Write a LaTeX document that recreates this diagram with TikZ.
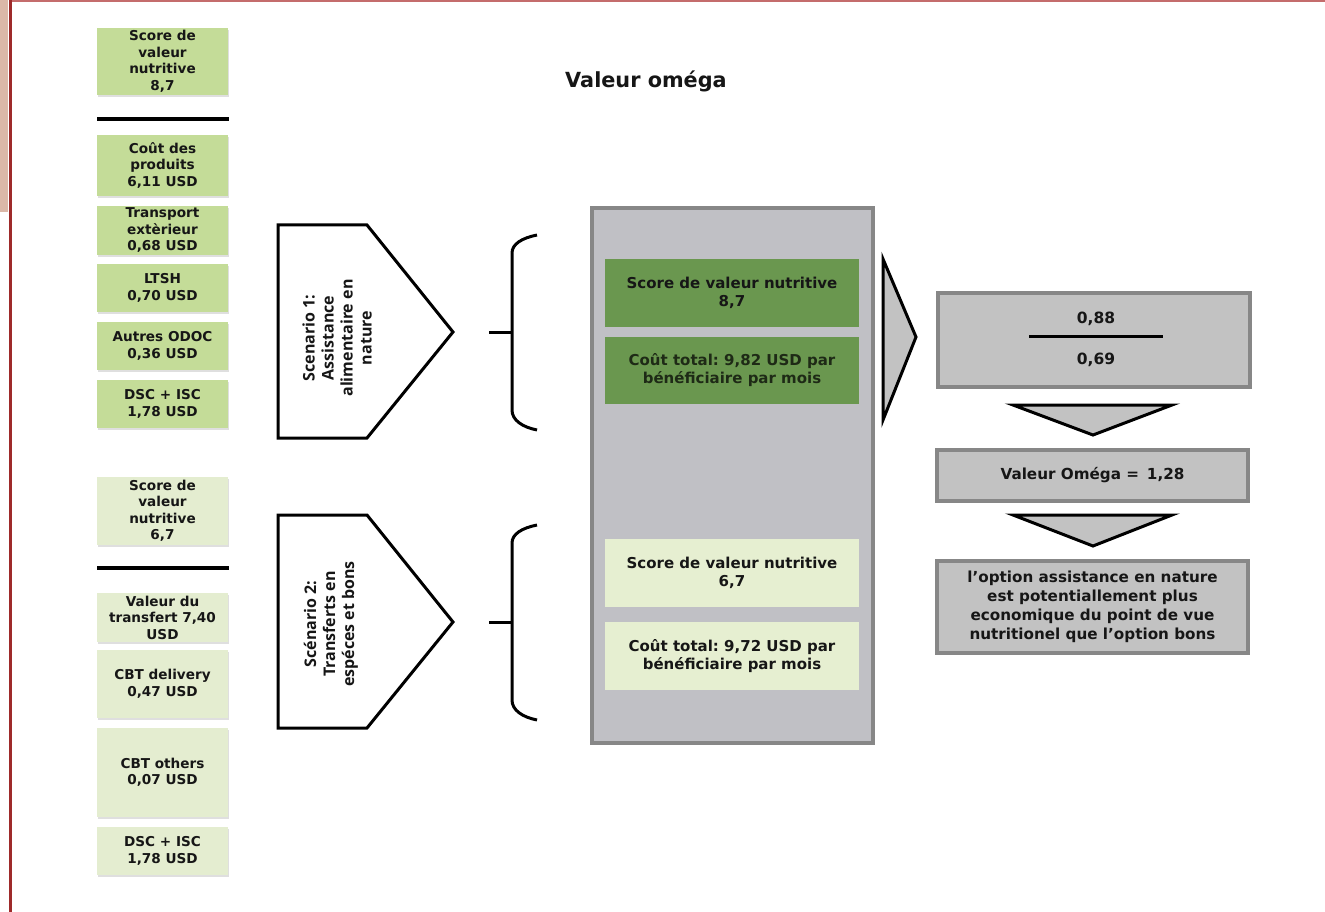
\documentclass[tikz,border=0pt]{standalone}
\usepackage{fontspec}
\setmainfont{DejaVu Sans}
\newfontfamily\osans{Open Sans}
\usetikzlibrary{shadows}
\frenchspacing

\definecolor{leafA}{HTML}{C4DC98}
\definecolor{leafB}{HTML}{E4EDD0}
\definecolor{darkleaf}{HTML}{6A974F}
\definecolor{paleleaf}{HTML}{E6EFD1}
\definecolor{panelfill}{HTML}{C0C0C5}
\definecolor{panelline}{HTML}{878787}
\definecolor{boxgray}{HTML}{C2C2C2}
\definecolor{inkdark}{HTML}{161616}
\definecolor{inkgreen}{HTML}{1E2A16}
\definecolor{frameRed}{HTML}{9E2A2A}
\definecolor{frameTop}{HTML}{C46C6C}
\definecolor{frameTan}{HTML}{DBB8A8}

\tikzset{
  costbox/.style={fill=#1, draw=none, minimum width=131, inner sep=0pt,
    align=center, text=inkdark,
    font=\fontsize{13.6}{16.5}\selectfont\bfseries,
    drop shadow={shadow xshift=1pt, shadow yshift=-2pt, opacity=0.25, fill=gray}},
  midbox/.style={fill=#1, draw=none, minimum width=254, inner sep=0pt,
    align=center, font=\fontsize{15}{18}\selectfont\bfseries},
  greybox/.style={fill=boxgray, draw=panelline, line width=4pt,
    minimum width=311, inner sep=0pt, align=center, text=inkdark,
    font=\fontsize{15.2}{19}\selectfont\bfseries},
  rule/.style={line width=3.5pt, black},
  outline/.style={draw=black, line width=3pt, line join=miter},
  pointer/.style={fill=boxgray, draw=black, line width=3pt, line join=miter},
  scen/.style={rotate=90, align=center, text=inkdark,
    font=\osans\fontsize{16}{19}\selectfont\bfseries},
}

\begin{document}
\begin{tikzpicture}[x=1pt, y=-1pt]
\useasboundingbox (0,0) rectangle (1325,912);
\fill[white] (0,0) rectangle (1325,912);

% page frame
\fill[frameTan] (0,0) rectangle (8,212);
\draw[frameTop, line width=2pt] (10,1) -- (1325,1);
\draw[frameRed, line width=3pt] (10,0) -- (10,912);

% title
\node[font=\fontsize{20.8}{24}\selectfont\bfseries, text=inkdark] (title) at (646,81) {Valeur oméga};

% scenario 1 cost breakdown
\node[costbox=leafA, minimum height=67] (n1) at (162.5,61.5) {Score de\\valeur\\nutritive\\8,7};
\draw[rule] (97,119) -- (229,119);
\node[costbox=leafA, minimum height=61] (c1) at (162.5,165.5) {Coût des\\produits\\6,11 USD};
\node[costbox=leafA, minimum height=49] (c2) at (162.5,230.5) {Transport\\extèrieur\\0,68 USD};
\node[costbox=leafA, minimum height=48] (c3) at (162.5,288) {LTSH\\0,70 USD};
\node[costbox=leafA, minimum height=48] (c4) at (162.5,346) {Autres ODOC\\0,36 USD};
\node[costbox=leafA, minimum height=48] (c5) at (162.5,404) {DSC + ISC\\1,78 USD};

% scenario 2 cost breakdown
\node[costbox=leafB, minimum height=68] (n2) at (162.5,511) {Score de\\valeur\\nutritive\\6,7};
\draw[rule] (97,568) -- (229,568);
\node[costbox=leafB, minimum height=49] (d1) at (162.5,617.5) {Valeur du\\transfert 7,40\\USD};
\node[costbox=leafB, minimum height=68] (d2) at (162.5,684) {CBT delivery\\0,47 USD};
\node[costbox=leafB, minimum height=89] (d3) at (162.5,772.5) {CBT others\\0,07 USD};
\node[costbox=leafB, minimum height=48] (d4) at (162.5,851) {DSC + ISC\\1,78 USD};

% scenario pentagons
\draw[outline] (278,225) -- (367,225) -- (453,332) -- (367,438) -- (278,438) -- cycle;
\node[scen] (s1) at (337,338) {Scenario 1:\\Assistance\\alimentaire en\\nature};
\draw[outline] (278,515) -- (367,515) -- (453,622) -- (367,728) -- (278,728) -- cycle;
\node[scen] (s2) at (331,624) {Scénario 2:\\Transferts en\\espéces et bons};

% braces
\draw[outline, line join=round] (537,235) .. controls (522,238) and (512,244) .. (512,253)
  -- (512,410) .. controls (512,420) and (522,427) .. (537,430);
\draw[outline] (489,332) -- (512,332);
\draw[outline, line join=round] (537,525) .. controls (522,528) and (512,534) .. (512,543)
  -- (512,700) .. controls (512,710) and (522,717) .. (537,720);
\draw[outline] (489,622) -- (512,622);

% comparison panel
\node[fill=panelfill, draw=panelline, line width=4pt, minimum width=281, minimum height=535,
  inner sep=0pt,
  drop shadow={shadow xshift=1pt, shadow yshift=-2pt, opacity=0.2, fill=gray}] (panel) at (732.5,475.5) {};
\node[midbox=darkleaf, minimum height=68, text=inkdark] (m1) at (732,293) {Score de valeur nutritive\\8,7};
\node[midbox=darkleaf, minimum height=67, text=inkgreen] (m2) at (732,370.5) {Coût total: 9,82 USD par\\bénéficiaire par mois};
\node[midbox=paleleaf, minimum height=68, text=inkdark] (m3) at (732,573) {Score de valeur nutritive\\6,7};
\node[midbox=paleleaf, minimum height=68, text=inkdark] (m4) at (732,656) {Coût total: 9,72 USD par\\bénéficiaire par mois};

% right-hand arrow
\draw[pointer] (883,259) -- (916,337) -- (883,420) -- cycle;

% omega calculation
\node[greybox, minimum width=312, minimum height=94] (frac) at (1094,340) {};
\node[font=\fontsize{15.5}{18}\selectfont\bfseries, text=inkdark] (num) at (1096,319) {0,88};
\node[font=\fontsize{15.5}{18}\selectfont\bfseries, text=inkdark] (den) at (1096,360) {0,69};
\draw[line width=3pt] (1029,336) -- (1163,336);

\draw[pointer] (1013,405) -- (1172,405) -- (1093,435) -- cycle;
\node[greybox, minimum height=51] (omega) at (1092.5,475.5) {Valeur Oméga = \,1,28};
\draw[pointer] (1013,515) -- (1172,515) -- (1093,546) -- cycle;
\node[greybox, minimum height=92] (concl) at (1092.5,607)
  {l’option assistance en nature\\est potentiallement plus\\economique du point de vue\\nutritionel que l’option bons};
\end{tikzpicture}
\end{document}
